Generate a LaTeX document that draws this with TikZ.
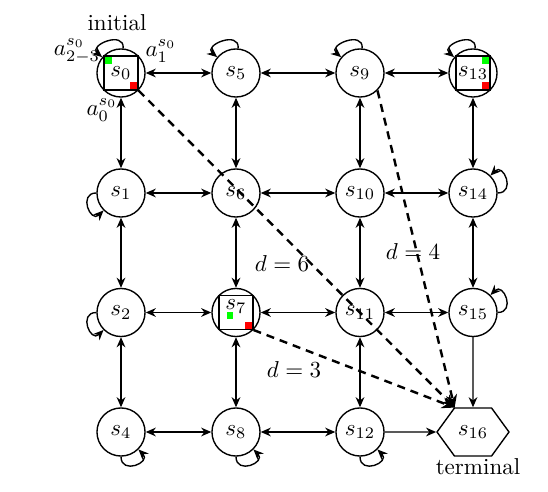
\documentclass[tikz,border=0pt]{standalone}
\usetikzlibrary{arrows.meta,shapes.symbols,calc}
\newcommand\sloop[3]{\draw[lp] (#1.#2) .. controls ($(#1.#2)+(#2:8pt)$) and ($(#1.#3)+(#3:8pt)$) .. (#1.#3);}
\begin{document}
\begin{tikzpicture}[x=0.4348pt,y=-0.4348pt,
  >={Stealth[length=4.4pt,width=3.8pt]},
  st/.style={circle,draw,line width=0.6pt,minimum size=20.9pt,inner sep=0pt},
  lk/.style={<->,line width=0.6pt},
  one/.style={->,line width=0.6pt},
  lp/.style={->,line width=0.6pt},
  dist/.style={-{Stealth[length=5.6pt,width=4.8pt]},line width=1.05pt,dash pattern=on 3.5pt off 2.6pt},
  box/.style={line width=0.6pt},
  txt/.style={inner sep=0.5pt}]
\useasboundingbox (0,0) rectangle (548,492);
% states
\node[st] (s0) at (121,73) {$s_0$};
\node[st] (s5) at (236,73) {$s_5$};
\node[st] (s9) at (360,73) {$s_9$};
\node[st] (s13) at (473,73) {$s_{13}$};
\node[st] (s1) at (121,193) {$s_1$};
\node[st] (s6) at (236,193) {$s_6$};
\node[st] (s10) at (360,193) {$s_{10}$};
\node[st] (s14) at (473,193) {$s_{14}$};
\node[st] (s2) at (121,312.5) {$s_2$};
\node[st] (s7) at (236,312.5) {};
\node[txt] (s7t) at ($(s7)+(0,2.6pt)$) {$s_7$};
\node[st] (s11) at (360,312.5) {$s_{11}$};
\node[st] (s15) at (473,312.5) {$s_{15}$};
\node[st] (s4) at (121,432) {$s_4$};
\node[st] (s8) at (236,432) {$s_8$};
\node[st] (s12) at (360,432) {$s_{12}$};
\node[draw,signal,signal to=east and west,signal pointer angle=108,minimum width=31.3pt,minimum height=20.9pt,inner sep=0pt,line width=0.6pt] (s16) at (473,432) {$s_{16}$};
% inner boxes
\draw[box] ($(s0)+(-7.35pt,7.35pt)$) rectangle ($(s0)+(7.35pt,-7.35pt)$);
\fill[green] ($(s0)+(-7.1pt,7.1pt)$) rectangle ++(3pt,-3pt);
\fill[red] ($(s0)+(7.1pt,-7.1pt)$) rectangle ++(-3pt,3pt);
\draw[box] ($(s13)+(-7.35pt,7.35pt)$) rectangle ($(s13)+(7.35pt,-7.35pt)$);
\fill[green] ($(s13)+(7.1pt,7.1pt)$) rectangle ++(-3pt,-3pt);
\fill[red] ($(s13)+(7.1pt,-7.1pt)$) rectangle ++(-3pt,3pt);
\draw[box] ($(s7)+(-7.35pt,7.35pt)$) rectangle ($(s7)+(7.35pt,-7.35pt)$);
\fill[green] ($(s7)+(-4.1pt,0pt)$) rectangle ++(3pt,-3pt);
\fill[red] ($(s7)+(7.1pt,-7.1pt)$) rectangle ++(-3pt,3pt);
% horizontal links
\draw[lk] (s0) -- (s5);
\draw[lk] (s5) -- (s9);
\draw[lk] (s9) -- (s13);
\draw[lk] (s1) -- (s6);
\draw[lk] (s6) -- (s10);
\draw[lk] (s10) -- (s14);
\draw[lk] (s2) -- (s7);
\draw[lk] (s7) -- (s11);
\draw[lk] (s11) -- (s15);
\draw[lk] (s4) -- (s8);
\draw[lk] (s8) -- (s12);
\draw[one] (s12) -- (s16);
% vertical links
\draw[lk] (s0) -- (s1);
\draw[lk] (s1) -- (s2);
\draw[lk] (s2) -- (s4);
\draw[lk] (s5) -- (s6);
\draw[lk] (s6) -- (s7);
\draw[lk] (s7) -- (s8);
\draw[lk] (s9) -- (s10);
\draw[lk] (s10) -- (s11);
\draw[lk] (s11) -- (s12);
\draw[lk] (s13) -- (s14);
\draw[lk] (s14) -- (s15);
\draw[one] (s15) -- (s16);
% self loops
\sloop{s0}{85}{140}
\sloop{s5}{85}{140}
\sloop{s9}{85}{140}
\sloop{s13}{85}{140}
\sloop{s1}{180}{225}
\sloop{s2}{180}{225}
\sloop{s4}{270}{315}
\sloop{s8}{270}{315}
\sloop{s12}{270}{315}
\sloop{s14}{0}{45}
\sloop{s15}{0}{45}
% distances
\draw[dist] (s0.south east) -- (s16.127);
\draw[dist] (s9.south east) -- (s16.127);
\draw[dist] (s7.south east) -- (s16.127);
\node[txt] (d6) at (282,264) {$d=6$};
\node[txt] (d4) at (413,252) {$d=4$};
\node[txt] (d3) at (294,370) {$d=3$};
% labels
\node[txt] (ini) at (117,23) {initial};
\node[txt] (a23) at (77,51) {$a_{2-3}^{s_0}$};
\node[txt] (a1) at (161,51) {$a_1^{s_0}$};
\node[txt] (a0) at (102,110) {$a_0^{s_0}$};
\node[txt] (term) at (478,467) {terminal};
\end{tikzpicture}
\end{document}
